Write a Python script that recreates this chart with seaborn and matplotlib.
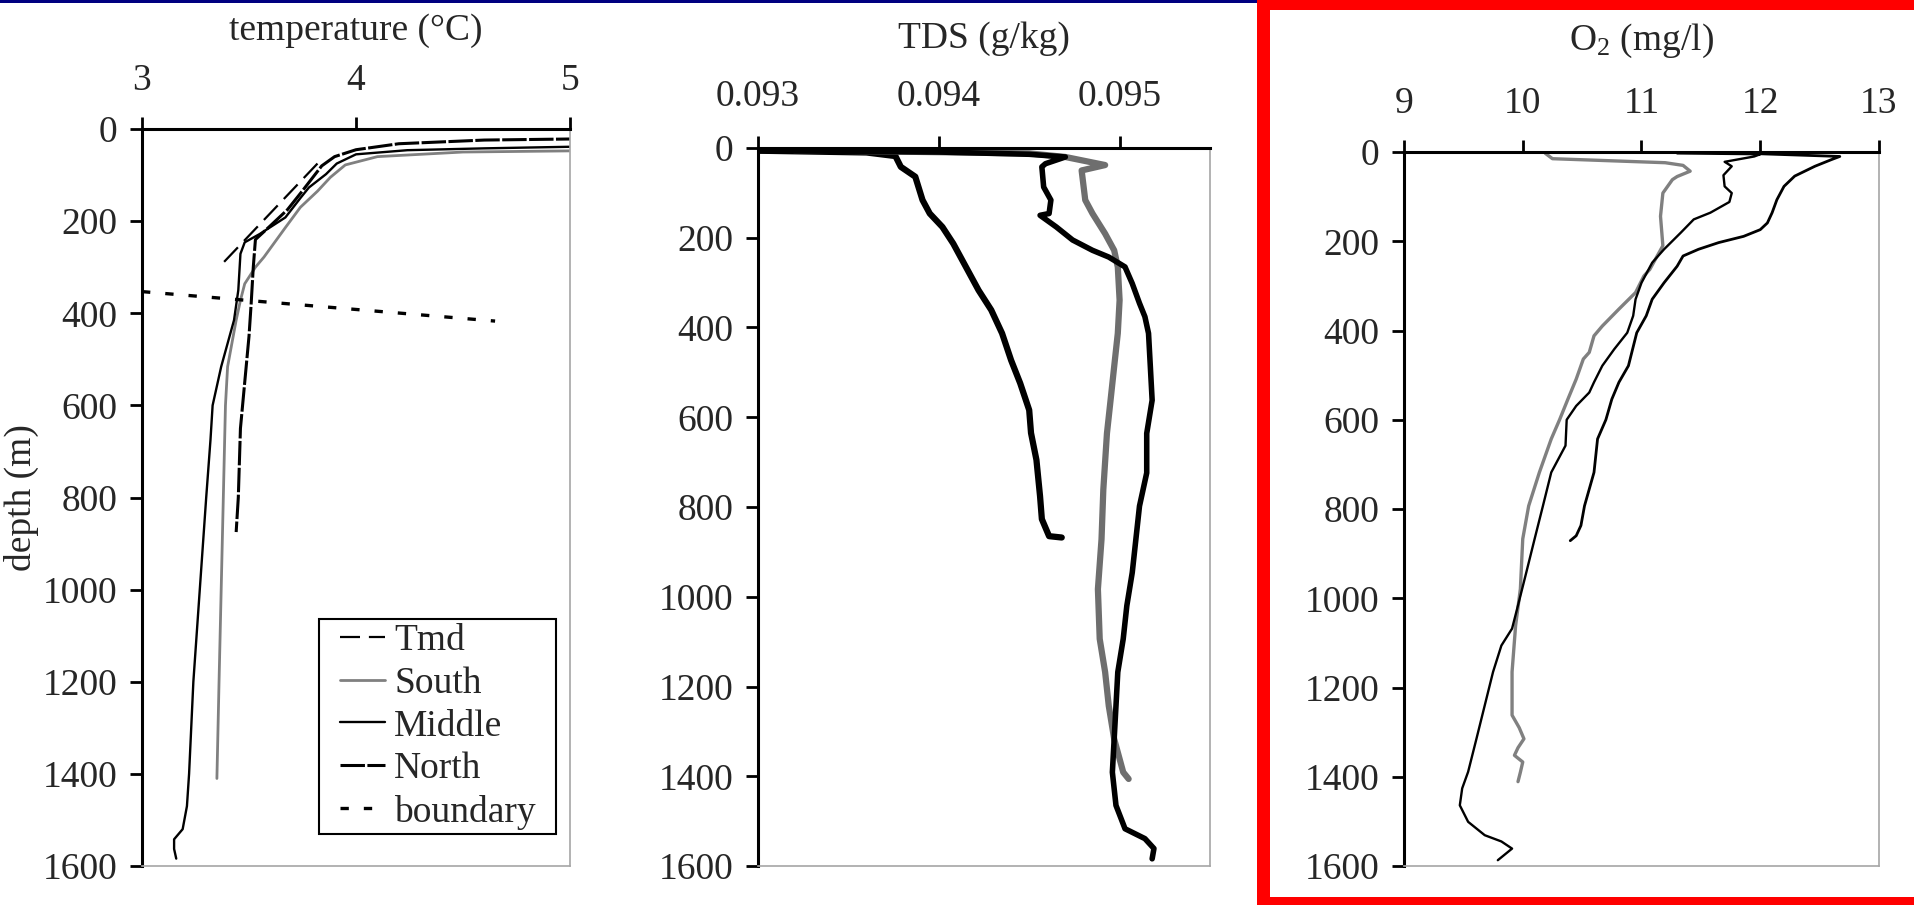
import matplotlib
matplotlib.use("Agg")
import matplotlib.pyplot as plt
from matplotlib.patches import Rectangle
from matplotlib.path import Path
import seaborn as sns

# ---------------- data (depth in m) ----------------
depth_ticks = [0, 200, 400, 600, 800, 1000, 1200, 1400, 1600]

# temperature panel
temp_ticks = [3, 4, 5]
temp_tick_labels = ["3", "4", "5"]

tmd_temp = [3.82, 3.36]
tmd_depth = [75, 300]

south_temp = [5.3, 4.5, 4.1, 3.95, 3.88, 3.82, 3.74, 3.67, 3.57, 3.53, 3.48, 3.46,
              3.44, 3.40, 3.39, 3.38, 3.37, 3.36, 3.35]
south_temp_depth = [46, 50, 60, 78, 105, 135, 170, 214, 278, 300, 336, 372,
                    415, 516, 600, 800, 1000, 1200, 1410]

middle_temp = [5.3, 4.6, 4.24, 4.0, 3.91, 3.86, 3.78, 3.74, 3.67, 3.55, 3.48, 3.46,
               3.45, 3.43, 3.37, 3.33, 3.32, 3.30, 3.27, 3.24, 3.22, 3.21, 3.19,
               3.15, 3.15, 3.16]
middle_temp_depth = [36, 42, 46, 55, 75, 98, 127, 150, 192, 228, 246, 271,
                     350, 415, 516, 600, 675, 800, 1000, 1200, 1400, 1470, 1520,
                     1542, 1563, 1584]

north_temp = [5.3, 4.6, 4.2, 4.0, 3.9, 3.84, 3.79, 3.74, 3.68, 3.6, 3.53, 3.52,
              3.51, 3.50, 3.48, 3.46, 3.45, 3.44]
north_temp_depth = [20, 24, 32, 45, 60, 80, 110, 140, 175, 210, 240, 300,
                    380, 450, 550, 650, 800, 875]

boundary_temp = [3.0, 4.65]
boundary_depth = [353, 417]

# TDS panel
tds_ticks = [0.093, 0.094, 0.095]
tds_tick_labels = ["0.093", "0.094", "0.095"]

north_tds = [0.0930, 0.0936, 0.09376, 0.09379, 0.09387, 0.09391, 0.09395, 0.09402,
             0.09408, 0.09415, 0.09422, 0.09429, 0.09435, 0.09440, 0.09445, 0.09450,
             0.09451, 0.09454, 0.09456, 0.09457, 0.09461, 0.09468]
north_tds_depth = [6, 10, 18, 42, 64, 116, 146, 176, 213, 265, 317, 361, 413, 473,
                   524, 584, 635, 695, 776, 827, 865, 868]

middle_tds = [0.0930, 0.0940, 0.0945, 0.0947, 0.09459, 0.09457, 0.09458, 0.09462,
              0.09461, 0.09456, 0.09465, 0.09474, 0.09485, 0.09494, 0.09503, 0.09507,
              0.09511, 0.09514, 0.09516, 0.09517, 0.09518, 0.09515, 0.09515, 0.09511,
              0.09509, 0.09507, 0.09504, 0.09502, 0.09499, 0.09498, 0.09497, 0.09496,
              0.09498, 0.09503, 0.09514, 0.09519, 0.09518]
middle_tds_depth = [6, 9, 14, 20, 35, 42, 87, 116, 146, 150, 176, 205, 228, 243, 265,
                    302, 346, 376, 413, 487, 562, 636, 724, 798, 872, 946, 1020, 1094,
                    1168, 1243, 1317, 1391, 1465, 1517, 1539, 1561, 1584]

south_tds = [0.0932, 0.0945, 0.0947, 0.09492, 0.09479, 0.09481, 0.09485, 0.09492,
             0.09497, 0.09499, 0.09500, 0.09499, 0.09497, 0.09495, 0.09493, 0.09491,
             0.09490, 0.09488, 0.09489, 0.09492, 0.09494, 0.09497, 0.09502, 0.09505]
south_tds_depth = [5, 12, 20, 38, 50, 116, 146, 191, 228, 265, 339, 413, 487, 562,
                   636, 761, 872, 983, 1094, 1168, 1243, 1317, 1391, 1406]

# O2 panel
o2_ticks = [9, 10, 11, 12, 13]
o2_tick_labels = ["9", "10", "11", "12", "13"]

south_o2 = [10.19, 10.25, 11.2, 11.35, 11.41, 11.3, 11.26, 11.18, 11.16, 11.18, 11.07,
            11.02, 10.95, 10.81, 10.67, 10.60, 10.56, 10.51, 10.45, 10.38, 10.31, 10.24,
            10.14, 10.05, 10.00, 9.98, 9.94, 9.91, 9.91, 9.97, 10.01, 9.96, 9.93, 10.0,
            9.98, 9.96]
south_o2_depth = [3, 15, 24, 30, 43, 55, 62, 92, 144, 210, 263, 278, 315, 352, 390,
                  412, 449, 464, 509, 554, 600, 643, 718, 793, 867, 979, 1061, 1165,
                  1262, 1290, 1315, 1335, 1352, 1367, 1390, 1411]

middle_o2 = [11.3, 12.0, 11.95, 11.7, 11.76, 11.69, 11.7, 11.76, 11.74, 11.58, 11.44,
             11.33, 11.19, 11.09, 11.0, 10.95, 10.93, 10.88, 10.77, 10.67, 10.60, 10.56,
             10.45, 10.37, 10.36, 10.24, 10.17, 10.10, 10.03, 9.96, 9.91, 9.82, 9.75,
             9.68, 9.61, 9.54, 9.49, 9.47, 9.54, 9.68, 9.82, 9.91, 9.79]
middle_o2_depth = [3, 5, 10, 22, 32, 52, 77, 92, 112, 136, 151, 181, 218, 248, 293,
                   330, 367, 405, 442, 479, 516, 539, 569, 600, 658, 718, 793, 867, 942,
                   1016, 1068, 1106, 1165, 1240, 1315, 1389, 1426, 1464, 1501, 1531,
                   1545, 1561, 1587]

north_o2 = [12.0, 12.67, 12.6, 12.46, 12.29, 12.2, 12.14, 12.1, 12.06, 12.0, 11.86,
            11.65, 11.48, 11.35, 11.3, 11.19, 11.09, 11.04, 10.96, 10.89, 10.81, 10.75,
            10.70, 10.63, 10.60, 10.52, 10.49, 10.45, 10.40]
north_o2_depth = [4, 10, 17, 32, 54, 77, 107, 136, 159, 174, 189, 203, 218, 233, 256,
                  293, 330, 367, 405, 479, 516, 554, 600, 643, 718, 793, 837, 860, 871]

# ---------------- style ----------------
sns.set_theme(style="white")
plt.rcParams["font.family"] = ["Liberation Serif", "DejaVu Serif"]
plt.rcParams["mathtext.default"] = "regular"
FS = 27
GRAY = "#808080"

W, H = 1915, 905
fig = plt.figure(figsize=(W / 100, H / 100), dpi=100)


def make_ax(left, right, top, bottom=866):
    return fig.add_axes([left / W, 1 - bottom / H, (right - left) / W, (bottom - top) / H])


def style_ax(ax, xlim, ticks, labels, title, xpad, tpad):
    ax.set_xlim(*xlim)
    ax.set_ylim(1600, 0)
    ax.set_xticks(ticks)
    ax.set_xticklabels(labels)
    ax.set_yticks(depth_ticks)
    ax.set_yticklabels([str(d) for d in depth_ticks])
    ax.xaxis.tick_top()
    ax.xaxis.set_label_position("top")
    ax.set_xlabel(title, fontsize=FS, labelpad=tpad)
    ax.set_ylabel("")
    ax.tick_params(axis="x", top=True, bottom=False, direction="out", length=8.5,
                   width=2, pad=xpad, labelsize=FS, color="black")
    ax.tick_params(axis="y", left=True, right=False, direction="out", length=8.5,
                   width=2, pad=9, labelsize=FS, color="black")
    for s in ["top", "left"]:
        ax.spines[s].set_color("black")
        ax.spines[s].set_linewidth(2.2)
    for s in ["right", "bottom"]:
        ax.spines[s].set_color("#a6a6a6")
        ax.spines[s].set_linewidth(1.2)


def line(ax, x, y, **kw):
    sns.lineplot(x=x, y=y, ax=ax, sort=False, estimator=None, legend=False, **kw)
    return ax.lines[-1]


# legend frame with extra room left and right only
H_PAD = 0.42


def wide_box(x0, y0, width, height, mutation_size):
    p = H_PAD * mutation_size
    return Path([(x0 - p, y0), (x0 + width + p, y0), (x0 + width + p, y0 + height),
                 (x0 - p, y0 + height), (x0 - p, y0)], closed=True)


# ---- temperature ----
ax1 = make_ax(142, 570, 129)
h_tmd = line(ax1, tmd_temp, tmd_depth, color="black", lw=1.6, linestyle=(0, (9, 4)))
h_south = line(ax1, south_temp, south_temp_depth, color=GRAY, lw=2)
h_mid = line(ax1, middle_temp, middle_temp_depth, color="black", lw=1.7)
h_north = line(ax1, north_temp, north_temp_depth, color="black", lw=2.2,
               linestyle=(0, (8, 0.8)))
h_bnd = line(ax1, boundary_temp, boundary_depth, color="black", lw=2.4,
             linestyle=(0, (2.5, 4.5)))
style_ax(ax1, (3, 5), temp_ticks, temp_tick_labels, "temperature (°C)", 14, 17)
ax1.set_ylabel("depth (m)", fontsize=FS, labelpad=3)
pad_px = H_PAD * FS * 100 / 72
leg = ax1.legend([h_tmd, h_south, h_mid, h_north, h_bnd],
                 ["Tmd", "South", "Middle", "North", "boundary"],
                 loc="lower right",
                 bbox_to_anchor=((556 - pad_px - 142) / 428, 0.0434), borderaxespad=0,
                 fontsize=FS, frameon=True, fancybox=False, framealpha=1,
                 edgecolor="black", handlelength=1.2, handletextpad=0.25,
                 labelspacing=0.22, borderpad=0.12)
leg.get_frame().set_linewidth(1.5)
leg.get_frame().set_boxstyle(wide_box)

# ---- TDS ----
ax2 = make_ax(758, 1210, 148)
line(ax2, north_tds, north_tds_depth, color="black", lw=4.5)
line(ax2, south_tds, south_tds_depth, color="#6e6e6e", lw=4.5)
line(ax2, middle_tds, middle_tds_depth, color="black", lw=4)
style_ax(ax2, (0.093, 0.0955), tds_ticks, tds_tick_labels, "TDS (g/kg)", 16, 23)

# ---- O2 ----
ax3 = make_ax(1404, 1879, 152)
line(ax3, south_o2, south_o2_depth, color=GRAY, lw=2.4)
line(ax3, middle_o2, middle_o2_depth, color="black", lw=1.7)
line(ax3, north_o2, north_o2_depth, color="black", lw=2)
style_ax(ax3, (9, 13), o2_ticks, o2_tick_labels, "O$_2$ (mg/l)", 14, 26)

# ---- page decorations: navy rule and red frame ----
fig.add_artist(Rectangle((0, 1 - 3 / H), 1257 / W, 3 / H, transform=fig.transFigure,
                         facecolor="#000080", edgecolor="none"))
for (x0, y0, w, h) in [(1257, 0, 13, 905), (1257, 0, 658, 10), (1257, 897, 658, 8)]:
    fig.add_artist(Rectangle((x0 / W, 1 - (y0 + h) / H), w / W, h / H,
                             transform=fig.transFigure, facecolor="#ff0000",
                             edgecolor="none"))

fig.savefig("out.png", dpi=100)
